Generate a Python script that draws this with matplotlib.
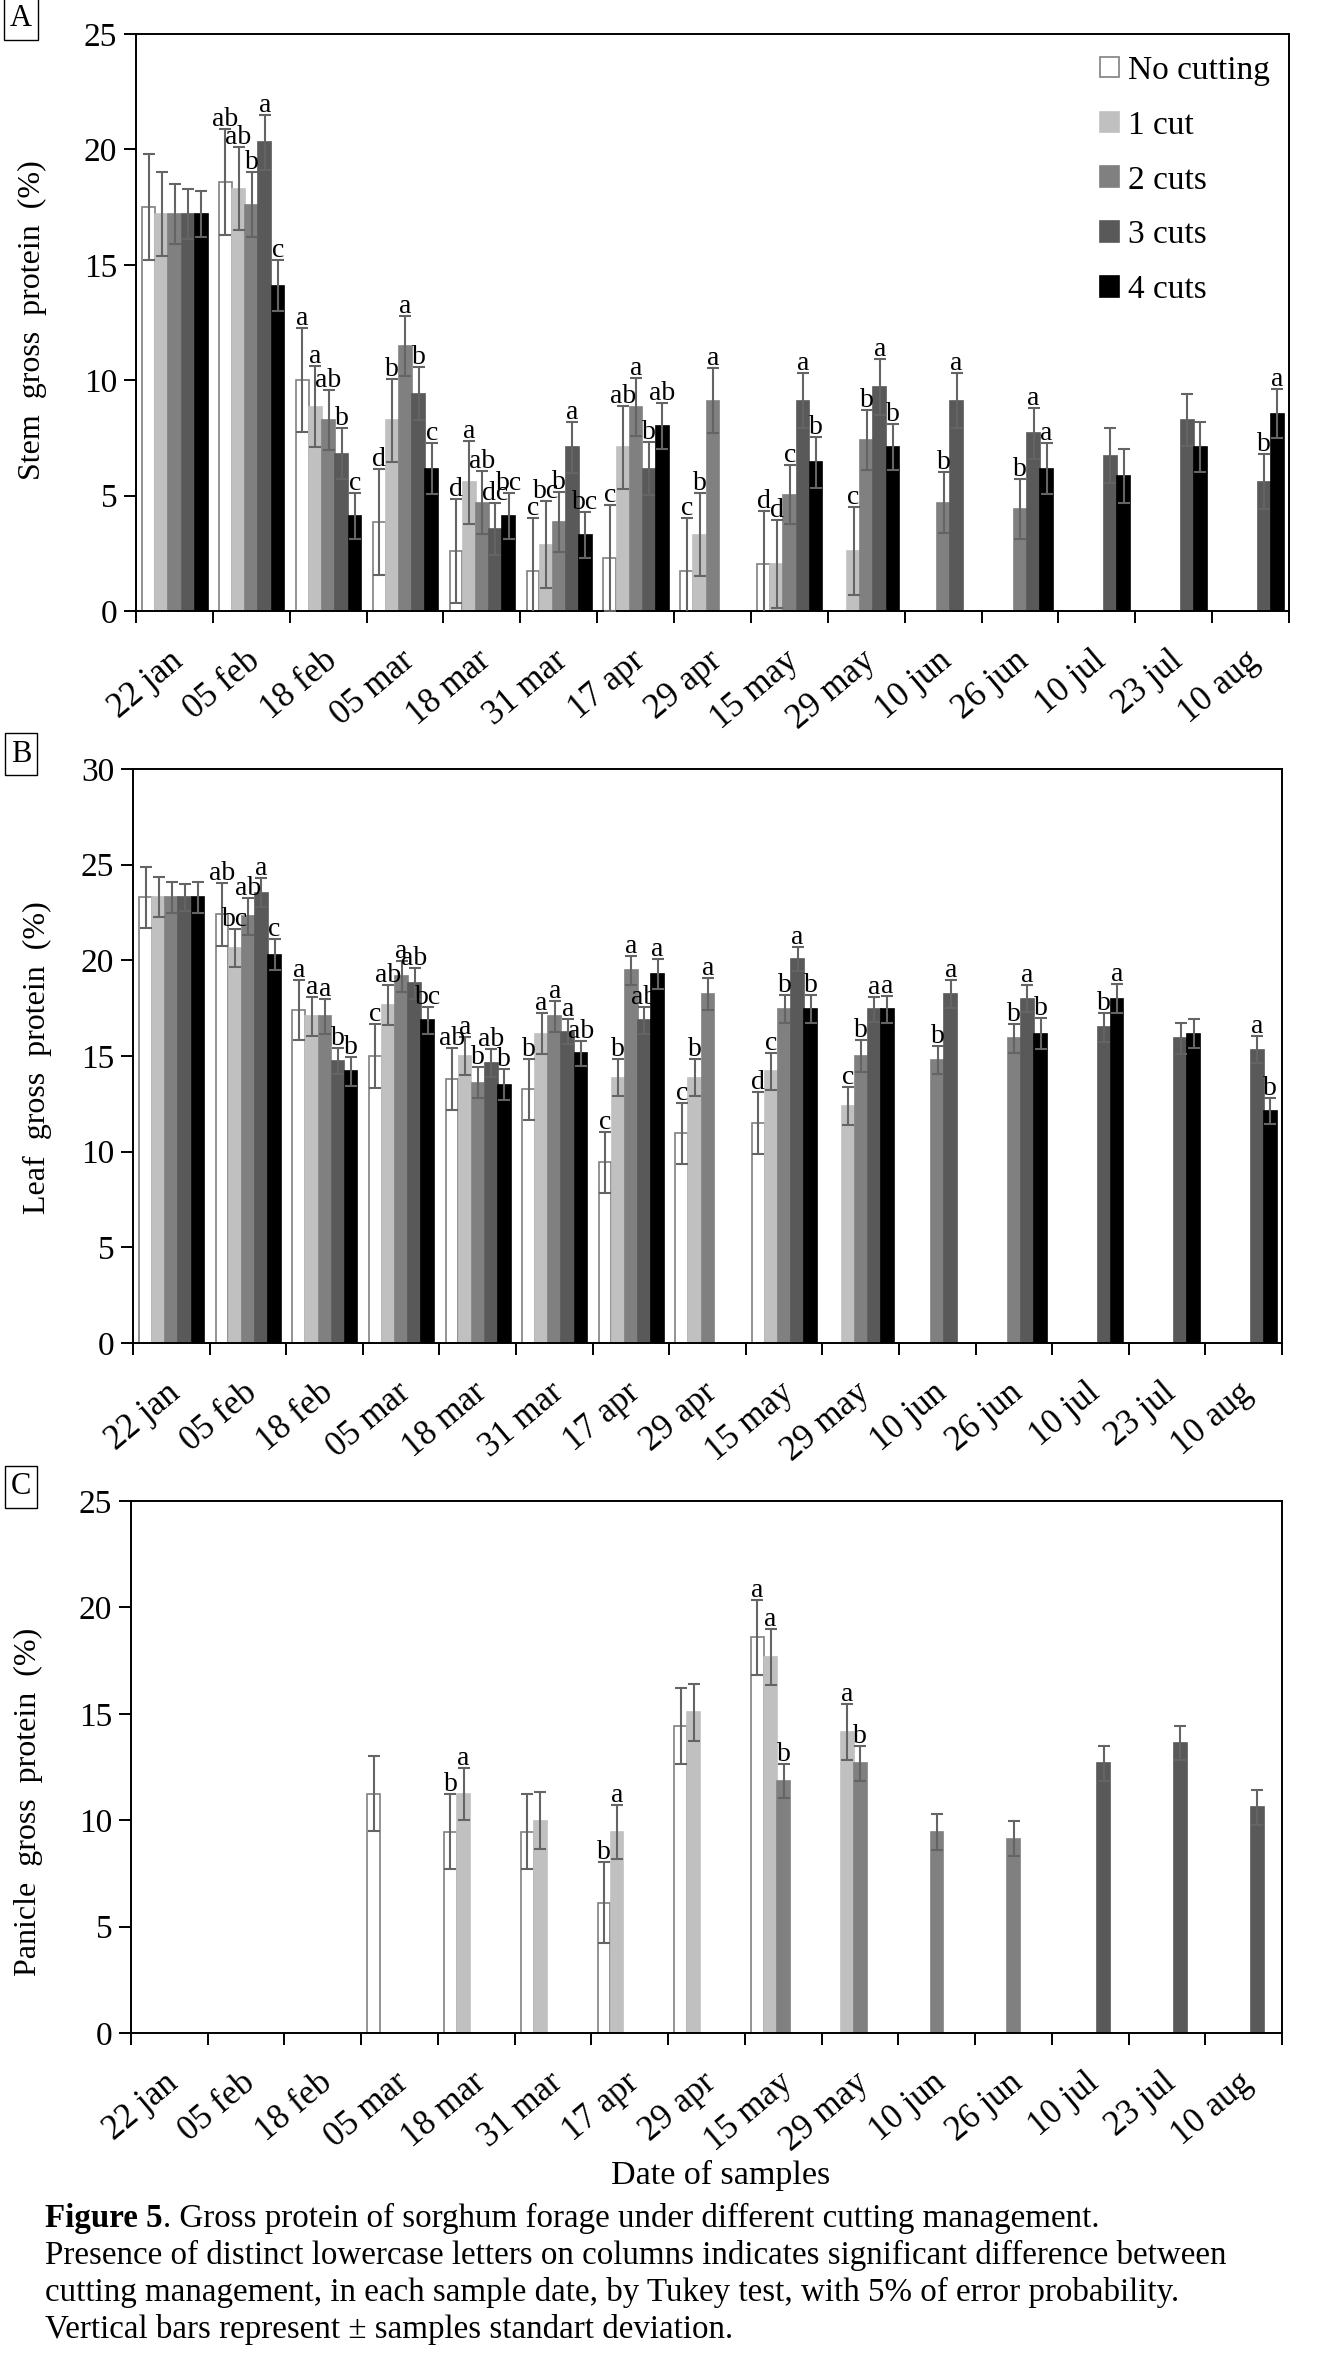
import numpy as np
import matplotlib.pyplot as plt
from matplotlib.patches import Patch

plt.rcParams['font.family'] = ['Liberation Serif', 'DejaVu Serif']

N = np.nan

dates = ['22 jan', '05 feb', '18 feb', '05 mar', '18 mar', '31 mar', '17 apr', '29 apr',
         '15 may', '29 may', '10 jun', '26 jun', '10 jul', '23 jul', '10 aug']
series = ['No cutting', '1 cut', '2 cuts', '3 cuts', '4 cuts']
face = ['white', '#c0c0c0', '#808080', '#595959', '#000000']
edge = ['#808080', '#c0c0c0', '#808080', '#595959', '#000000']

# Panel A: stem gross protein (%), one row per cutting treatment
stem_mean = [
  [17.5, 18.6, 10.0, 3.85, 2.6, 1.75, 2.3, 1.75, 2.05, N, N, N, N, N, N],
  [17.2, 18.3, 8.85, 8.27, 5.58, 2.88, 7.1, 3.3, 2.05, 2.6, N, N, N, N, N],
  [17.2, 17.6, 8.27, 11.5, 4.7, 3.85, 8.85, 9.12, 5.04, 7.39, 4.7, 4.42, N, N, N],
  [17.2, 20.3, 6.82, 9.42, 3.57, 7.1, 6.17, N, 9.12, 9.7, 9.12, 7.7, 6.73, 8.27, 5.6],
  [17.2, 14.1, 4.13, 6.17, 4.13, 3.29, 8.0, N, 6.45, 7.1, N, 6.17, 5.85, 7.1, 8.55],
]
stem_sd = [
  [2.3, 2.3, 2.25, 2.3, 2.25, 2.3, 2.3, 2.3, 2.27, N, N, N, N, N, N],
  [1.8, 1.8, 1.75, 1.8, 1.8, 1.9, 1.8, 1.8, 1.9, 1.9, N, N, N, N, N],
  [1.3, 1.4, 1.3, 1.3, 1.37, 1.3, 1.25, 1.4, 1.27, 1.3, 1.33, 1.3, N, N, N],
  [1.1, 1.2, 1.1, 1.15, 1.13, 1.1, 1.15, N, 1.2, 1.2, 1.2, 1.1, 1.2, 1.13, 1.2],
  [1.0, 1.1, 1.0, 1.1, 1.0, 1.0, 1.0, N, 1.1, 1.0, N, 1.1, 1.15, 1.07, 1.05],
]
stem_letters = [
  ['', 'ab', 'a', 'd', 'd', 'c', 'c', 'c', 'd', '', '', '', '', '', ''],
  ['', 'ab', 'a', 'b', 'a', 'bc', 'ab', 'b', 'd', 'c', '', '', '', '', ''],
  ['', 'b', 'ab', 'a', 'ab', 'b', 'a', 'a', 'c', 'b', 'b', 'b', '', '', ''],
  ['', 'a', 'b', 'b', 'dc', 'a', 'b', '', 'a', 'a', 'a', 'a', '', '', 'b'],
  ['', 'c', 'c', 'c', 'bc', 'bc', 'ab', '', 'b', 'b', '', 'a', '', '', 'a'],
]

# Panel B: leaf gross protein (%)
leaf_mean = [
  [23.3, 22.4, 17.4, 15.0, 13.8, 13.25, 9.45, 10.95, 11.5, N, N, N, N, N, N],
  [23.3, 20.65, 17.07, 17.67, 15.0, 16.17, 13.87, 13.87, 14.19, 12.37, N, N, N, N, N],
  [23.3, 22.3, 17.07, 19.16, 13.61, 17.07, 19.48, 18.24, 17.45, 15.0, 14.79, 15.92, N, N, N],
  [23.3, 23.53, 14.74, 18.8, 14.64, 16.28, 16.86, N, 20.08, 17.45, 18.24, 17.99, 16.49, 15.92, 15.32],
  [23.3, 20.29, 14.19, 16.86, 13.5, 15.15, 19.27, N, 17.45, 17.45, N, 16.17, 17.99, 16.17, 12.12],
]
leaf_sd = [
  [1.6, 1.65, 1.58, 1.66, 1.6, 1.58, 1.6, 1.6, 1.6, N, N, N, N, N, N],
  [1.05, 1.0, 1.0, 1.06, 1.0, 1.07, 0.96, 0.96, 0.98, 1.0, N, N, N, N, N],
  [0.8, 0.95, 0.9, 0.8, 0.8, 0.8, 0.75, 0.85, 0.75, 0.85, 0.75, 0.75, N, N, N],
  [0.7, 0.75, 0.7, 0.8, 0.75, 0.65, 0.7, N, 0.64, 0.65, 0.75, 0.7, 0.75, 0.8, 0.7],
  [0.8, 0.8, 0.75, 0.7, 0.8, 0.66, 0.79, N, 0.75, 0.7, N, 0.8, 0.75, 0.75, 0.7],
]
leaf_letters = [
  ['', 'ab', 'a', 'c', 'ab', 'b', 'c', 'c', 'd', '', '', '', '', '', ''],
  ['', 'bc', 'a', 'ab', 'a', 'a', 'b', 'b', 'c', 'c', '', '', '', '', ''],
  ['', 'ab', 'a', 'a', 'b', 'a', 'a', 'a', 'b', 'b', 'b', 'b', '', '', ''],
  ['', 'a', 'b', 'ab', 'ab', 'a', 'ab', '', 'a', 'a', 'a', 'a', 'b', '', 'a'],
  ['', 'c', 'b', 'bc', 'b', 'ab', 'a', '', 'b', 'a', '', 'b', 'a', '', 'b'],
]

# Panel C: panicle gross protein (%)
panicle_mean = [
  [N, N, N, 11.24, 9.45, 9.45, 6.12, 14.43, 18.59, N, N, N, N, N, N],
  [N, N, N, N, 11.24, 9.98, 9.45, 15.07, 17.67, 14.14, N, N, N, N, N],
  [N, N, N, N, N, N, N, N, 11.83, 12.67, 9.45, 9.14, N, N, N],
  [N, N, N, N, N, N, N, N, N, N, N, N, 12.67, 13.62, 10.6],
  [N, N, N, N, N, N, N, N, N, N, N, N, N, N, N],
]
panicle_sd = [
  [N, N, N, 1.76, 1.76, 1.76, 1.9, 1.8, 1.75, N, N, N, N, N, N],
  [N, N, N, N, 1.22, 1.35, 1.25, 1.35, 1.33, 1.33, N, N, N, N, N],
  [N, N, N, N, N, N, N, N, 0.8, 0.84, 0.84, 0.8, N, N, N],
  [N, N, N, N, N, N, N, N, N, N, N, N, 0.84, 0.8, 0.84],
  [N, N, N, N, N, N, N, N, N, N, N, N, N, N, N],
]
panicle_letters = [
  ['', '', '', '', 'b', '', 'b', '', 'a', '', '', '', '', '', ''],
  ['', '', '', '', 'a', '', 'a', '', 'a', 'a', '', '', '', '', ''],
  ['', '', '', '', '', '', '', '', 'b', 'b', '', '', '', '', ''],
  [''] * 15,
  [''] * 15,
]

W, H = 1323, 2362
fig = plt.figure(figsize=(W / 100, H / 100), dpi=100)


def add_axes_px(left, top, right, bottom):
    return fig.add_axes([left / W, 1 - bottom / H, (right - left) / W, (bottom - top) / H])


def draw_panel(ax, means, sds, letters, ymax):
    step = 0.171
    for j in range(5):
        m = np.array(means[j], float)
        s = np.array(sds[j], float)
        x = np.arange(15) + 0.078 + step * (j + 0.5)
        ok = ~np.isnan(m)
        if not ok.any():
            continue
        ax.bar(x[ok], m[ok], width=step * 0.97, color=face[j], edgecolor=edge[j],
               linewidth=1.2, zorder=2)
        ax.errorbar(x[ok], m[ok], yerr=s[ok], fmt='none', ecolor='#646464',
                    elinewidth=1.5, capsize=4.3, capthick=1.5, zorder=3)
        for xi, mi, si, lab in zip(x, m, s, letters[j]):
            if lab:
                ax.annotate(lab, (xi, mi + si), xytext=(0, 3), textcoords='offset pixels',
                            ha='center', va='baseline', fontsize=20, zorder=4)
    ax.set_xlim(0, 15)
    ax.set_ylim(0, ymax)
    ax.set_xticks(np.arange(16))
    ax.set_xticklabels([])
    ax.set_yticks(np.arange(0, ymax + 1, 5))
    ax.tick_params(direction='out', length=8.5, width=1.4, labelsize=24, pad=5)
    for sp in ax.spines.values():
        sp.set_linewidth(1.4)
    for i, d in enumerate(dates):
        ax.annotate(d, (i + 0.5, 0), xycoords=('data', 'axes fraction'), xytext=(5, -46),
                    textcoords='offset pixels', rotation=40, ha='right', va='center',
                    rotation_mode='anchor', fontsize=25)


axA = add_axes_px(136, 34, 1289, 611)
draw_panel(axA, stem_mean, stem_sd, stem_letters, 25)
handles = [Patch(facecolor=face[j], edgecolor=edge[j], linewidth=1.2) for j in range(5)]
axA.legend(handles, series, loc='upper left', bbox_to_anchor=(0.836, 0.963), frameon=False,
           fontsize=24, handlelength=0.58, handleheight=0.58, handletextpad=0.25,
           labelspacing=0.73, borderpad=0, borderaxespad=0)

axB = add_axes_px(133, 769, 1282, 1343)
draw_panel(axB, leaf_mean, leaf_sd, leaf_letters, 30)

axC = add_axes_px(131, 1501, 1282, 2033)
draw_panel(axC, panicle_mean, panicle_sd, panicle_letters, 25)

# Y labels
fig.text(32 / W, 1 - 320 / H, 'Stem  gross  protein  (%)', rotation=90, ha='center', va='center', fontsize=23)
fig.text(37 / W, 1 - 1058 / H, 'Leaf  gross  protein  (%)', rotation=90, ha='center', va='center', fontsize=23)
fig.text(28 / W, 1 - 1802 / H, 'Panicle  gross  protein  (%)', rotation=90, ha='center', va='center', fontsize=23)

# Panel tags
for tag, yc in [('A', 19), ('B', 754), ('C', 1487)]:
    fig.text(21 / W, 1 - yc / H, tag, ha='center', va='center', fontsize=22,
             bbox=dict(boxstyle='square,pad=0.2', fc='white', ec='black', lw=1))

fig.text(721 / W, 1 - 2184 / H, 'Date of samples', ha='center', va='baseline', fontsize=24.5)

# Caption
rend = fig.canvas.get_renderer()
t = fig.text(45 / W, 1 - 2227 / H, 'Figure 5', weight='bold', fontsize=23.8, va='baseline')
x1 = t.get_window_extent(rend).x1
fig.text(x1 / W, 1 - 2227 / H, '. Gross protein of sorghum forage under different cutting management.',
         fontsize=23.8, va='baseline')
cap_lines = ['Presence of distinct lowercase letters on columns indicates significant difference between',
             'cutting management, in each sample date, by Tukey test, with 5% of error probability.',
             'Vertical bars represent \u00b1 samples standart deviation.']
for k, line in enumerate(cap_lines):
    fig.text(45 / W, 1 - (2264 + 37 * k) / H, line, fontsize=23.8, va='baseline')

fig.savefig('out.png', dpi=100)
